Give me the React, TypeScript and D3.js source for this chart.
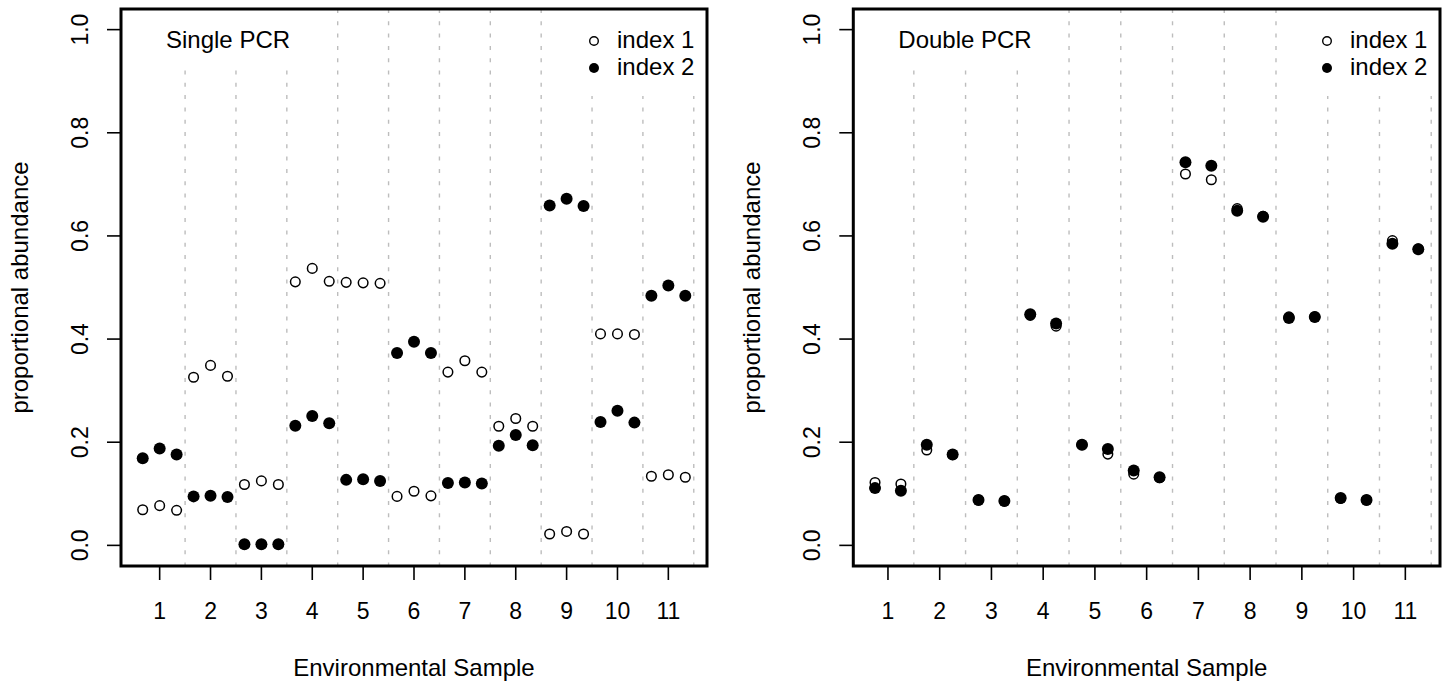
import React from "react";
import * as d3 from "d3";

// sample numbers on the x axis
const samples = [1, 2, 3, 4, 5, 6, 7, 8, 9, 10, 11];
const yTicks = [0, 0.2, 0.4, 0.6, 0.8, 1.0];
const seriesNames = ["index 1", "index 2"];

// Single PCR: three replicates per sample
const singleIndex1 = [
  [0.069, 0.077, 0.068],
  [0.326, 0.349, 0.328],
  [0.118, 0.125, 0.118],
  [0.511, 0.537, 0.512],
  [0.510, 0.509, 0.508],
  [0.095, 0.105, 0.096],
  [0.336, 0.358, 0.336],
  [0.231, 0.246, 0.231],
  [0.022, 0.027, 0.022],
  [0.410, 0.410, 0.409],
  [0.134, 0.137, 0.132],
];
const singleIndex2 = [
  [0.169, 0.188, 0.176],
  [0.095, 0.096, 0.094],
  [0.002, 0.002, 0.002],
  [0.232, 0.251, 0.237],
  [0.127, 0.128, 0.125],
  [0.373, 0.395, 0.373],
  [0.121, 0.122, 0.120],
  [0.193, 0.214, 0.194],
  [0.659, 0.672, 0.658],
  [0.239, 0.261, 0.238],
  [0.484, 0.504, 0.484],
];

// Double PCR: two replicates per sample
const doubleIndex1 = [
  [0.122, 0.119],
  [0.185, 0.176],
  [0.088, 0.086],
  [0.446, 0.425],
  [0.195, 0.177],
  [0.138, 0.131],
  [0.720, 0.709],
  [0.653, 0.638],
  [0.443, 0.443],
  [0.091, 0.088],
  [0.591, 0.575],
];
const doubleIndex2 = [
  [0.111, 0.106],
  [0.195, 0.176],
  [0.088, 0.086],
  [0.448, 0.430],
  [0.195, 0.187],
  [0.145, 0.132],
  [0.743, 0.736],
  [0.649, 0.637],
  [0.441, 0.443],
  [0.092, 0.088],
  [0.585, 0.574],
];

const FONT = "'Liberation Sans', Arial, Helvetica, sans-serif";
const TOP = 9;
const BOTTOM = 566;

const y = d3.scaleLinear().domain([-0.04, 1.04]).range([BOTTOM, TOP]);

type PanelProps = {
  title: string;
  left: number;
  right: number;
  domain: [number, number];
  spread: number;
  index1: number[][];
  index2: number[][];
  titleBoxRight: number;
  legendLeft: number;
};

const Panel = ({ title, left, right, domain, spread, index1, index2, titleBoxRight, legendLeft }: PanelProps) => {
  const x = d3.scaleLinear().domain(domain).range([left, right]);
  const reps = index1[0].length;
  const off = d3.scalePoint<number>().domain(d3.range(reps)).range([-spread, spread]);
  const sep = samples.map((s) => s + 0.5);

  const pts = (vals: number[][]) =>
    vals.flatMap((row, i) => row.map((v, j) => ({ cx: x(samples[i] + (off(j) ?? 0)), cy: y(v) })));

  const mid = (TOP + BOTTOM) / 2;
  const legX = x(domain[1]) - 113;

  return (
    <g>
      {sep.map((s) => (
        <line key={s} x1={x(s)} x2={x(s)} y1={TOP} y2={BOTTOM} stroke="#bdbdbd" strokeWidth={1.4} strokeDasharray="4 8.3" />
      ))}
      <rect x={left} y={TOP} width={titleBoxRight - left} height={61} fill="#fff" />
      <rect x={legendLeft} y={TOP} width={right - legendLeft} height={87} fill="#fff" />

      {pts(index1).map((p, i) => (
        <circle key={"a" + i} cx={p.cx} cy={p.cy} r={4.8} fill="none" stroke="#000" strokeWidth={1.5} />
      ))}
      {pts(index2).map((p, i) => (
        <circle key={"b" + i} cx={p.cx} cy={p.cy} r={6} fill="#000" />
      ))}

      <rect x={left} y={TOP} width={right - left} height={BOTTOM - TOP} fill="none" stroke="#000" strokeWidth={3} />

      {yTicks.map((t) => (
        <g key={t}>
          <line x1={left - 14} x2={left} y1={y(t)} y2={y(t)} stroke="#000" strokeWidth={1.6} />
          <text
            transform={`translate(${left - 33},${y(t)}) rotate(-90)`}
            textAnchor="middle"
            fontSize={23}
            fontFamily={FONT}
          >
            {t.toFixed(1)}
          </text>
        </g>
      ))}
      {samples.map((s) => (
        <g key={s}>
          <line x1={x(s)} x2={x(s)} y1={BOTTOM} y2={BOTTOM + 14} stroke="#000" strokeWidth={1.6} />
          <text x={x(s)} y={619} textAnchor="middle" fontSize={23} fontFamily={FONT}>
            {s}
          </text>
        </g>
      ))}

      <text x={(left + right) / 2} y={676} textAnchor="middle" fontSize={24} fontFamily={FONT}>
        Environmental Sample
      </text>
      <text transform={`translate(${left - 93},${mid}) rotate(-90)`} textAnchor="middle" fontSize={24} fontFamily={FONT}>
        proportional abundance
      </text>

      <text x={left + 45} y={47.5} fontSize={24} fontFamily={FONT}>
        {title}
      </text>

      {seriesNames.map((name, i) => (
        <g key={name}>
          {i === 0 ? (
            <circle cx={legX} cy={41 + i * 27} r={4.3} fill="none" stroke="#000" strokeWidth={1.4} />
          ) : (
            <circle cx={legX} cy={41 + i * 27} r={5} fill="#000" />
          )}
          <text x={legX + 23} y={47.5 + i * 27} fontSize={24} fontFamily={FONT}>
            {name}
          </text>
        </g>
      ))}
    </g>
  );
};

export default function App() {
  return (
    <svg width={1446} height={683} style={{ position: "absolute", left: 0, top: 0, background: "#fff" }}>
      <Panel
        title="Single PCR"
        left={121}
        right={707}
        domain={[0.24, 11.76]}
        spread={1 / 3}
        index1={singleIndex1}
        index2={singleIndex2}
        titleBoxRight={305}
        legendLeft={578}
      />
      <Panel
        title="Double PCR"
        left={853.3}
        right={1440}
        domain={[0.33, 11.67]}
        spread={0.25}
        index1={doubleIndex1}
        index2={doubleIndex2}
        titleBoxRight={1045}
        legendLeft={1308}
      />
    </svg>
  );
}
